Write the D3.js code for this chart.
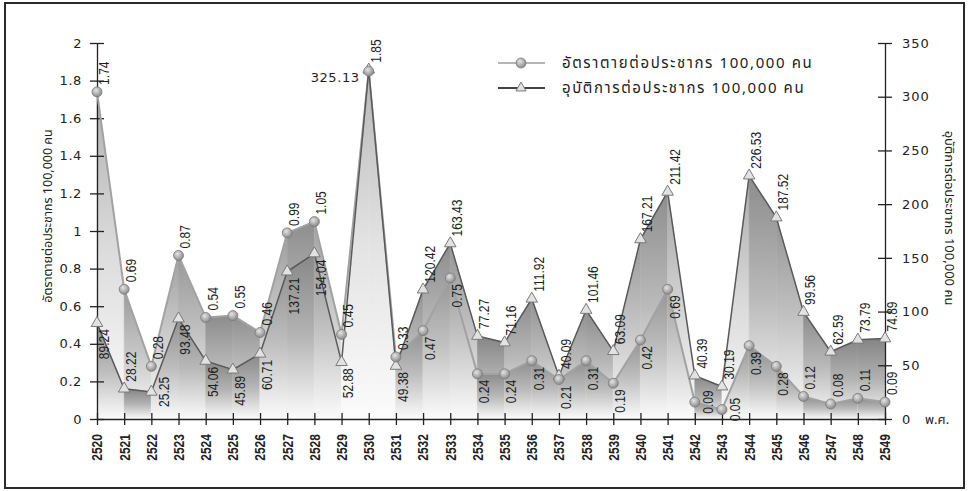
<!DOCTYPE html>
<html>
<head>
<meta charset="utf-8">
<script src="https://cdn.jsdelivr.net/npm/d3@7"></script>
<style>
  body { margin: 0; background: #fff; }
  svg { display: block; }
</style>
</head>
<body>
<svg id="chart" width="970" height="491"></svg>
<script>
// Years (Buddhist Era)
const years = ["2520","2521","2522","2523","2524","2525","2526","2527","2528","2529",
               "2530","2531","2532","2533","2534","2535","2536","2537","2538","2539",
               "2540","2541","2542","2543","2544","2545","2546","2547","2548","2549"];

// Deaths per 100,000 population (left axis)
const deathRate = [1.74,0.69,0.28,0.87,0.54,0.55,0.46,0.99,1.05,0.45,
                   1.85,0.33,0.47,0.75,0.24,0.24,0.31,0.21,0.31,0.19,
                   0.42,0.69,0.09,0.05,0.39,0.28,0.12,0.08,0.11,0.09];

// Incidents per 100,000 population (right axis)
const incidentRate = [89.24,28.22,25.25,93.48,54.06,45.89,60.71,137.21,154.04,52.88,
                      325.13,49.38,120.42,163.43,77.27,71.16,111.92,40.09,101.46,63.09,
                      167.21,211.42,40.39,30.19,226.53,187.52,99.56,62.59,73.79,74.89];

const leftTicks  = [0,0.2,0.4,0.6,0.8,1,1.2,1.4,1.6,1.8,2];
const rightTicks = [0,50,100,150,200,250,300,350];

const deathLabel    = "อัตราตายต่อประชากร 100,000 คน";
const incidentLabel = "อุบัติการต่อประชากร 100,000 คน";
const eraLabel      = "พ.ศ.";

const thaiFont = "'Noto Sans Thai','Noto Sans Thai Looped','Loma','Garuda','Tlwg Typo','DejaVu Sans',sans-serif";
const numFont  = "'DejaVu Sans',sans-serif";
const labelFont = "'Liberation Sans',Arial,sans-serif";
const squeeze = 0.86;   // horizontal condensing of the rotated labels

const svg = d3.select("#chart");
const defs = svg.append("defs");

const x  = d3.scalePoint().domain(years).range([97, 885]);
const yL = d3.scaleLinear().domain([0, 2]).range([419, 43]);
const yR = d3.scaleLinear().domain([0, 350]).range([419, 43]);
const base = yL(0);

// frame
svg.append("rect")
  .attr("x", 5).attr("y", 3).attr("width", 959).attr("height", 485)
  .attr("fill", "none").attr("stroke", "#2a2a2a").attr("stroke-width", 2);

// shaded ribbons: one trapezoid per year interval, flatter pieces shaded darker
const seriesDefs = [
  { key: "d", values: deathRate, y: yL, tone: 0 },
  { key: "i", values: incidentRate, y: yR, tone: -8 }
];
const areaGen = d3.area().x(d => x(d.year)).y0(base).y1(d => d.py);
const areaLayer = svg.append("g");

for (let i = 0; i < years.length - 1; i++) {
  const segs = seriesDefs.map(s => {
    const pts = [
      { year: years[i],     py: s.y(s.values[i]) },
      { year: years[i + 1], py: s.y(s.values[i + 1]) }
    ];
    return { key: s.key, tone: s.tone, pts, avg: (pts[0].py + pts[1].py) / 2 };
  });
  // taller ribbon first, shorter one painted over it
  segs.sort((a, b) => a.avg - b.avg);
  segs.forEach(sg => {
    const [p0, p1] = sg.pts;
    const dx = x(p1.year) - x(p0.year);
    const slope = Math.abs(p1.py - p0.py) / dx;
    const t = Math.min(slope / 10, 1);
    const g = Math.round(140 + 50 * t + sg.tone);
    const m = Math.min(g + 45, 242);
    const id = `shade-${sg.key}-${i}`;
    const lg = defs.append("linearGradient").attr("id", id)
      .attr("gradientUnits", "userSpaceOnUse")
      .attr("x1", 0).attr("x2", 0)
      .attr("y1", Math.min(p0.py, p1.py)).attr("y2", base);
    lg.append("stop").attr("offset", 0).attr("stop-color", d3.rgb(g, g, g));
    lg.append("stop").attr("offset", 0.5).attr("stop-color", d3.rgb(m, m, m));
    lg.append("stop").attr("offset", 1).attr("stop-color", "#fbfbfb");
    areaLayer.append("path")
      .attr("d", areaGen(sg.pts))
      .attr("fill", `url(#${id})`)
      .attr("stroke", `url(#${id})`)
      .attr("stroke-width", 0.6);
  });
}

// axes
const axisStyle = sel => {
  sel.select(".domain").attr("stroke", "#222").attr("stroke-width", 1.3);
  sel.selectAll(".tick line").attr("stroke", "#222").attr("stroke-width", 1.3);
};

const gL = svg.append("g").attr("transform", `translate(${x.range()[0]},0)`)
  .call(d3.axisLeft(yL).tickValues(leftTicks).tickFormat(d3.format("~g"))
    .tickSize(7).tickSizeOuter(0).tickPadding(8));
axisStyle(gL);
gL.selectAll(".tick line").attr("x1", 7);
gL.selectAll(".tick text").attr("font-family", numFont).attr("font-size", 13)
  .attr("letter-spacing", 0.6).attr("fill", "#222");

const gR = svg.append("g").attr("transform", `translate(${x.range()[1]},0)`)
  .call(d3.axisRight(yR).tickValues(rightTicks).tickFormat(d3.format("d"))
    .tickSize(7).tickSizeOuter(0).tickPadding(10));
axisStyle(gR);
gR.selectAll(".tick line").attr("x1", -7);
gR.selectAll(".tick text").attr("font-family", numFont).attr("font-size", 13)
  .attr("letter-spacing", 1).attr("fill", "#222");

const gB = svg.append("g").attr("transform", `translate(0,${base})`)
  .call(d3.axisBottom(x).tickSize(6).tickSizeOuter(0));
axisStyle(gB);
gB.selectAll(".tick line").attr("y1", -6);
gB.selectAll(".tick text")
  .attr("transform", `translate(0,15) rotate(-90) scale(${squeeze},1)`)
  .attr("text-anchor", "end")
  .attr("x", 0).attr("y", 0).attr("dy", "0.35em")
  .attr("font-family", labelFont).attr("font-weight", "bold")
  .attr("font-size", 14).attr("fill", "#222");

// lines
const lineD = d3.line().x((d, i) => x(years[i])).y(d => yL(d));
const lineI = d3.line().x((d, i) => x(years[i])).y(d => yR(d));

svg.append("path").attr("d", lineD(deathRate))
  .attr("fill", "none").attr("stroke", "#a2a2a2").attr("stroke-width", 2);
svg.append("path").attr("d", lineI(incidentRate))
  .attr("fill", "none").attr("stroke", "#5a5a5a").attr("stroke-width", 1.5);

// markers
const ball = defs.append("radialGradient").attr("id", "ball")
  .attr("cx", "40%").attr("cy", "35%").attr("r", "65%");
ball.append("stop").attr("offset", 0).attr("stop-color", "#e4e4e4");
ball.append("stop").attr("offset", 1).attr("stop-color", "#8a8a8a");

const tri = d3.symbol(d3.symbolTriangle, 58);

svg.append("g").selectAll("path").data(incidentRate).join("path")
  .attr("d", tri)
  .attr("transform", (d, i) => `translate(${x(years[i])},${yR(d)})`)
  .attr("fill", "#e2e2e2").attr("stroke", "#7a7a7a").attr("stroke-width", 1);

svg.append("g").selectAll("circle").data(deathRate).join("circle")
  .attr("cx", (d, i) => x(years[i])).attr("cy", d => yL(d)).attr("r", 5)
  .attr("fill", "url(#ball)").attr("stroke", "#7a7a7a").attr("stroke-width", 0.8);

// value labels
const labelLayer = svg.append("g")
  .attr("font-family", labelFont).attr("font-size", 14).attr("fill", "#1e1e1e");

function makeLabel(text) {
  const t = labelLayer.append("text").text(text).attr("dy", "0.35em");
  return { t, len: t.node().getComputedTextLength() * squeeze };
}
function placeAbove(l, px, py) {
  l.t.attr("text-anchor", "start")
    .attr("transform", `translate(${px + 7},${py - 7}) rotate(-90) scale(${squeeze},1)`);
}
function placeBelow(l, px, py) {
  l.t.attr("text-anchor", "end")
    .attr("transform", `translate(${px + 7},${py + 6}) rotate(-90) scale(${squeeze},1)`);
}
function placeBeside(l, px, py) {
  l.t.attr("text-anchor", "middle")
    .attr("transform", `translate(${px + 13},${py}) rotate(-90) scale(${squeeze},1)`);
}

years.forEach((yr, i) => {
  const px = x(yr);
  const dText = deathRate[i].toFixed(2);
  const iText = incidentRate[i].toFixed(2);
  const yd = yL(deathRate[i]);
  const yi = yR(incidentRate[i]);
  if (Math.abs(yd - yi) < 10 && Math.min(yd, yi) < 150) {
    // both marks share the peak: one label above, the other beside it
    placeAbove(makeLabel(dText), px, Math.min(yd, yi));
    labelLayer.append("text").text(iText)
      .attr("x", px - 9).attr("y", yi + 12).attr("text-anchor", "end")
      .attr("font-family", numFont).attr("font-size", 13).attr("letter-spacing", 0.6);
    return;
  }
  const upper = yd < yi ? { text: dText, py: yd } : { text: iText, py: yi };
  const lower = yd < yi ? { text: iText, py: yi } : { text: dText, py: yd };
  placeAbove(makeLabel(upper.text), px, upper.py);
  const l = makeLabel(lower.text);
  if (lower.py + 6 + l.len <= base + 3) placeBelow(l, px, lower.py);
  else if (lower.py - upper.py > l.len + 14) placeAbove(l, px, lower.py);
  else placeBeside(l, px, lower.py);
});

// axis titles
svg.append("text").text(deathLabel)
  .attr("transform", "translate(48,216) rotate(-90)")
  .attr("text-anchor", "middle").attr("dy", "0.35em")
  .attr("font-family", thaiFont).attr("font-size", 12.5).attr("fill", "#222");

svg.append("text").text(incidentLabel)
  .attr("transform", "translate(950,218) rotate(90)")
  .attr("text-anchor", "middle").attr("dy", "0.35em")
  .attr("font-family", thaiFont).attr("font-size", 13).attr("fill", "#222");

svg.append("text").text(eraLabel)
  .attr("x", 925).attr("y", base).attr("dy", "0.35em")
  .attr("font-family", thaiFont).attr("font-size", 13).attr("fill", "#222");

// legend
const legend = svg.append("g");
const legendRows = [
  { text: deathLabel, y: 63, stroke: "#9c9c9c", width: 1.4, mark: "circle" },
  { text: incidentLabel, y: 88, stroke: "#444", width: 1.8, mark: "tri" }
];
legendRows.forEach(r => {
  legend.append("line").attr("x1", 498).attr("x2", 545).attr("y1", r.y).attr("y2", r.y)
    .attr("stroke", r.stroke).attr("stroke-width", r.width);
  if (r.mark === "circle") {
    legend.append("circle").attr("cx", 521).attr("cy", r.y).attr("r", 5)
      .attr("fill", "url(#ball)").attr("stroke", "#7a7a7a").attr("stroke-width", 0.8);
  } else {
    legend.append("path").attr("d", d3.symbol(d3.symbolTriangle, 45)())
      .attr("transform", `translate(521,${r.y})`)
      .attr("fill", "#e2e2e2").attr("stroke", "#7a7a7a");
  }
  legend.append("text").text(r.text).attr("x", 562).attr("y", r.y).attr("dy", "0.35em")
    .attr("font-family", thaiFont).attr("font-size", 15).attr("letter-spacing", 1.6)
    .attr("fill", "#222");
});
</script>
</body>
</html>
